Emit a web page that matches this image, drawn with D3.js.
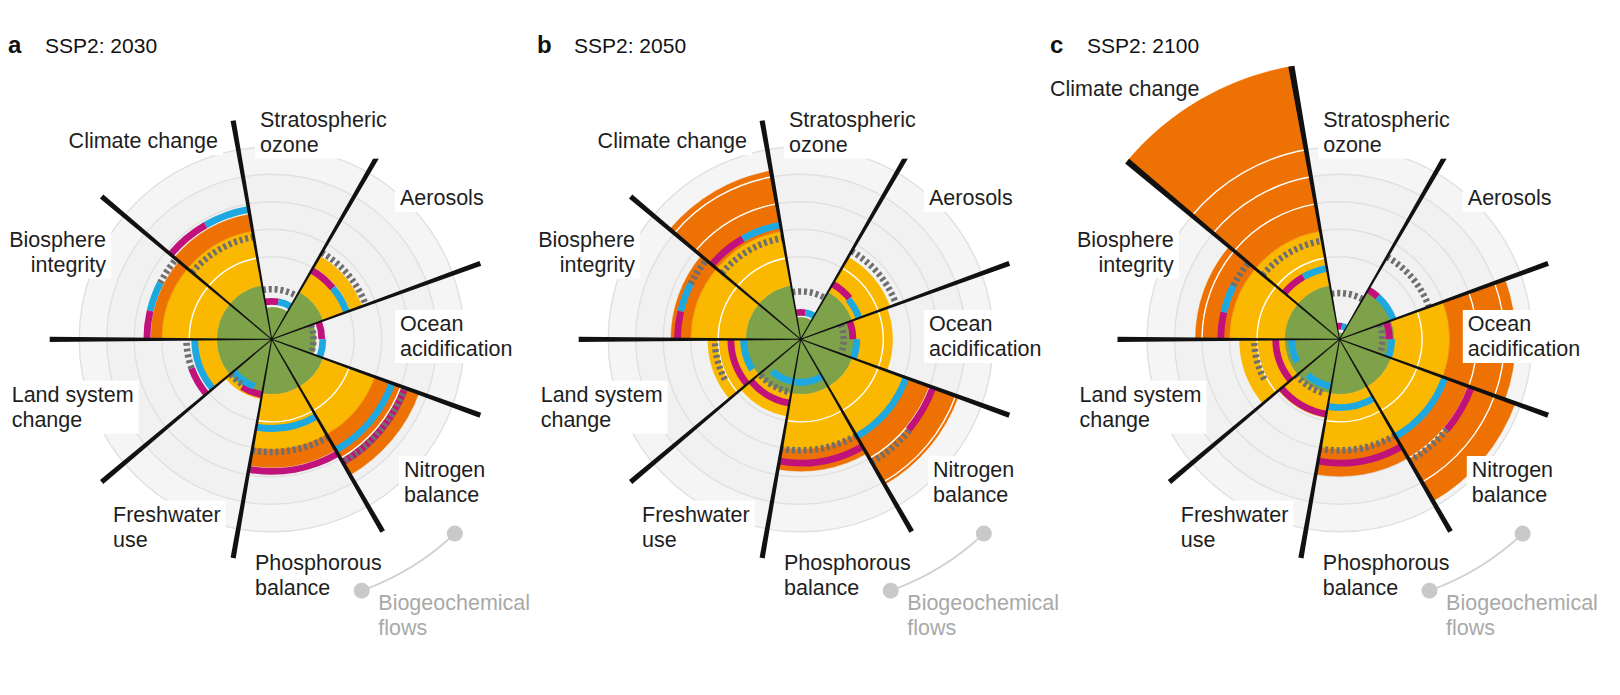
<!DOCTYPE html>
<html><head><meta charset="utf-8">
<script src="https://cdn.jsdelivr.net/npm/d3@7"></script>
<style>
body{margin:0;background:#fff}
svg{display:block}
text{font-family:"Liberation Sans",Arial,Helvetica,sans-serif}
</style>
</head><body>
<svg id="chart" width="1620" height="695"></svg>
<script>
// ---------------- DATA ----------------
const sectorNames = [["Climate change"],["Stratospheric","ozone"],["Aerosols"],["Ocean","acidification"],["Nitrogen","balance"],["Phosphorous","balance"],["Freshwater","use"],["Land system","change"],["Biosphere","integrity"]];
const panelLetters = ["a","b","c"];
const panelTitles = ["SSP2: 2030","SSP2: 2050","SSP2: 2100"];
const groupLabel = ["Biogeochemical","flows"];
// bar values (1 = boundary, 2 = high-risk threshold)
const bars2030 = [2.31,0.58,1.75,0.80,2.85,2.33,1.10,1.36,2.20];
const bars2050 = [3.11,0.40,1.73,1.67,3.05,2.40,1.42,1.69,2.36];
const bars2100 = [5.04,0.12,1.00,3.20,3.40,2.49,1.45,1.82,2.62];
// markers: [value, sector fraction start, sector fraction end]
const magenta2030 = [[2.40,0,0.5],[0.69,0,0.5],[1.45,0,0.5],[0.91,0,0.5],[2.58,0,1],[2.40,0,1],[1.02,0,0.55],[1.55,0,0.5],[2.27,0,0.33]];
const cyan2030    = [[2.40,0.5,1],[0.69,0.5,1],[1.45,0.5,1],[0.93,0.5,1],[2.33,0,1],[1.62,0,1],[0.91,0.25,1],[1.40,0,1],[2.27,0.33,0.67]];
const grey2030    = [[1.89,0,1],[0.91,0,1],[1.82,0,1],[0.76,0,1],[2.58,0,1],[2.05,0,1],[0.98,0.6,1],[1.55,0.5,1],[2.27,0.67,1]];
const magenta2050 = [[2.11,0,0.5],[0.49,0,0.5],[1.16,0,0.5],[0.95,0,0.5],[2.56,0,0.5],[2.25,0,1],[1.18,0,1],[1.27,0,1],[2.24,0,0.33]];
const cyan2050    = [[2.11,0.5,1],[0.49,0.5,1],[1.13,0.5,1],[1.02,0.5,1],[2.04,0,1],[0.78,0,1],[0.78,0,0.8],[1.04,0.2,1],[2.24,0.33,0.67]];
const grey2050    = [[1.87,0,1],[0.87,0,1],[1.85,0,1],[0.78,0,1],[2.58,0.5,1],[2.02,0,1],[0.98,0.1,1],[1.56,0.3,1],[2.24,0.67,1]];
const magenta2100 = [[1.31,0,0.5],[0.24,0,0.5],[1.04,0,0.3],[0.91,0,0.5],[2.55,0,0.5],[2.25,0,1],[1.38,0,1],[1.16,0,1],[2.16,0,0.33]];
const cyan2100    = [[1.31,0.5,1],[0.24,0.5,1],[1.04,0.3,1],[0.95,0.5,1],[2.04,0,1],[1.24,0,1],[0.87,0,0.8],[0.87,0.3,1],[2.16,0.33,0.67]];
const grey2100    = [[1.82,0,1],[0.84,0,1],[1.73,0,1],[0.78,0,1],[2.55,0.5,1],[2.02,0,1],[1.02,0.2,1],[1.55,0.3,1],[2.16,0.67,1]];
const ringValues = [1.5,2,2.5,3,3.5];
const whiteRingValues = [1.5,2.5,3,3.5];

// ---------------- LAYOUT ----------------
const W = 1620, H = 695;
const centers = [[271.7,339.3],[800.7,339.3],[1339.5,339.3]];
const titleX = [8,537,1050];
const sectorStart = 310, sectorSpan = 40;
const col = {green:"#7ea24a", yellow:"#fab800", orange:"#ee7203", magenta:"#c0127a", cyan:"#1ea8e0", dash:"#6f6f6f", bg:"#f1f1f1", bg2:"#f5f5f5", ring:"#e0e0e0"};
// label offsets from center [dx, dy(first baseline), anchor]
const labelPos = [[-53.7,-191,"end"],[-11.7,-212.6,"start"],[128.3,-134.3,"start"],[128.3,-8.3,"start"],[132.3,137.7,"start"],[-16.7,230.7,"start"],[-158.7,182.4,"start"],[-260,62.4,"start"],[-165.7,-92.6,"end"]];
const labelOverride = [{}, {}, {0:[1050,96,"start",true], 1:[-16.3,-212.6,"start"]}];

const R = d3.scaleLinear().domain([0,1]).range([0,55]);
const baseLine = 222/55;
const rad = d => d*Math.PI/180;
const svg = d3.select("#chart");
svg.append("rect").attr("width",W).attr("height",H).attr("fill","#fff");
const arc = d3.arc();

function drawPanel(p, bars, mags, cyans, greys){
  const [cx,cy] = centers[p];
  const g = svg.append("g").attr("transform",`translate(${cx},${cy})`);
  // background
  g.append("circle").attr("r",R(3.5)).attr("fill",col.bg2);
  g.append("circle").attr("r",R(3.0)).attr("fill",col.bg);
  ringValues.forEach(v=>g.append("circle").attr("r",R(v)).attr("fill","none").attr("stroke",col.ring).attr("stroke-width",1.4));
  const zones = [[0,1,col.green],[1,2,col.yellow],[2,99,col.orange]];
  bars.forEach((v,i)=>{
    const a0 = rad(sectorStart+sectorSpan*i), a1 = a0+rad(sectorSpan);
    zones.forEach(([lo,hi,c])=>{
      if(v>lo){
        g.append("path").attr("d",arc({innerRadius:R(lo),outerRadius:R(Math.min(v,hi)),startAngle:a0,endAngle:a1}))
          .attr("fill",c).attr("stroke",c).attr("stroke-width",0.4);
      }
    });
    whiteRingValues.filter(rv=>rv<v-0.02).forEach(rv=>{
      g.append("path").attr("d",arc({innerRadius:R(rv)-0.7,outerRadius:R(rv)+0.7,startAngle:a0,endAngle:a1})).attr("fill","#fff");
    });
  });
  // markers
  const band = (list,c)=>list.forEach((m,i)=>{
    if(!m) return;
    const a0 = rad(sectorStart+sectorSpan*(i+m[1])), a1 = rad(sectorStart+sectorSpan*(i+m[2]));
    g.append("path").attr("d",arc({innerRadius:R(m[0])-3.4,outerRadius:R(m[0])+3.4,startAngle:a0,endAngle:a1})).attr("fill",c);
  });
  band(mags,col.magenta);
  band(cyans,col.cyan);
  greys.forEach((m,i)=>{
    const a0 = rad(sectorStart+sectorSpan*(i+m[1])-90), a1 = rad(sectorStart+sectorSpan*(i+m[2])-90);
    const pth = d3.path(); const r = R(m[0]);
    pth.moveTo(r*Math.cos(a0), r*Math.sin(a0)); pth.arc(0,0,r,a0,a1);
    g.append("path").attr("d",pth.toString()).attr("fill","none").attr("stroke",col.dash)
      .attr("stroke-width",6.5).attr("stroke-dasharray","3 2.8");
  });
  // radial black lines (tapered)
  for(let k=0;k<9;k++){
    const th = rad(sectorStart+sectorSpan*k);
    const L = R(Math.max(baseLine, bars[k], bars[(k+8)%9]));
    const ux=Math.sin(th), uy=-Math.cos(th), nx=Math.cos(th), ny=Math.sin(th);
    const w0=0.5, w1=0.5+2.1*(L/222);
    const pts=[[w0*nx,w0*ny],[L*ux+w1*nx,L*uy+w1*ny],[L*ux-w1*nx,L*uy-w1*ny],[-w0*nx,-w0*ny]];
    g.append("path").attr("d","M"+pts.map(q=>q.join(",")).join("L")+"Z").attr("fill","#111");
  }
  // labels
  sectorNames.forEach((lines,i)=>{
    const ov = labelOverride[p][i];
    let x,y,anchor,abs=false;
    if(ov){ [x,y,anchor,abs] = ov; } else { [x,y,anchor] = labelPos[i]; }
    const lg = abs ? svg.append("g") : g.append("g");
    const t = lg.append("text").attr("text-anchor",anchor).attr("font-size","21.5px").attr("fill","#1e1e1e");
    lines.forEach((s,j)=>t.append("tspan").attr("x",x).attr("y",y+25*j).text(s));
    if(!abs){
      const bb = t.node().getBBox();
      lg.insert("rect","text").attr("x",bb.x-5).attr("y",bb.y-2).attr("width",bb.width+10).attr("height",bb.height+4).attr("fill","#fff");
    }
  });
  // biogeochemical flows bracket
  const rb = 267, b0 = rad(136.7-90), b1 = rad(160.3-90);
  const bp = d3.path(); bp.moveTo(rb*Math.cos(b0), rb*Math.sin(b0)); bp.arc(0,0,rb,b0,b1);
  g.append("path").attr("d",bp.toString()).attr("fill","none").attr("stroke","#d0d0d0").attr("stroke-width",2);
  [b0,b1].forEach(a=>g.append("circle").attr("cx",rb*Math.cos(a)).attr("cy",rb*Math.sin(a)).attr("r",8).attr("fill","#c9c9c9"));
  const gt = g.append("text").attr("font-size","21.5px").attr("fill","#a9a9a9");
  groupLabel.forEach((s,j)=>gt.append("tspan").attr("x",106.6).attr("y",270.7+25*j).text(s));
  // title
  svg.append("text").attr("x",titleX[p]).attr("y",53).attr("font-size","24px").attr("font-weight","bold").attr("fill","#111").text(panelLetters[p]);
  svg.append("text").attr("x",titleX[p]+37).attr("y",53).attr("font-size","21px").attr("fill","#111").text(panelTitles[p]);
}

drawPanel(0, bars2030, magenta2030, cyan2030, grey2030);
drawPanel(1, bars2050, magenta2050, cyan2050, grey2050);
drawPanel(2, bars2100, magenta2100, cyan2100, grey2100);
</script>
</body></html>
